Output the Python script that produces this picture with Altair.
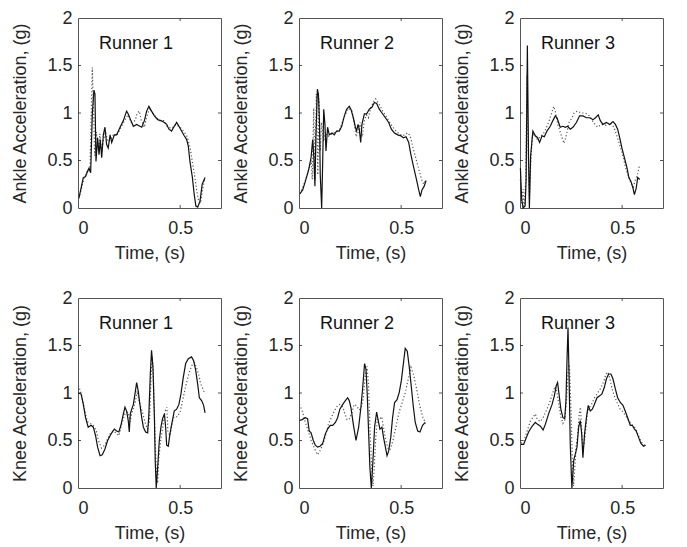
import altair as alt
import pandas as pd

# ---- data (time in s, acceleration in g) ----
ankle_r1_solid = [(0.005,0.11),(0.026,0.32),(0.037,0.33),(0.047,0.39),(0.054,0.42),(0.062,0.37),(0.07,0.99),
    (0.078,1.24),(0.083,1.20),(0.088,0.49),(0.096,0.74),(0.103,0.56),(0.109,0.72),(0.116,0.53),(0.124,0.77),
    (0.132,0.85),(0.14,0.67),(0.148,0.63),(0.157,0.77),(0.165,0.69),(0.178,0.77),(0.189,0.77),(0.206,0.85),
    (0.222,0.92),(0.238,1.02),(0.246,0.99),(0.259,0.92),(0.271,0.86),(0.287,0.88),(0.303,0.86),(0.312,0.85),
    (0.325,0.92),(0.336,1.02),(0.347,1.07),(0.36,1.02),(0.374,0.97),(0.39,0.93),(0.406,0.92),(0.423,0.90),
    (0.434,0.88),(0.445,0.83),(0.458,0.81),(0.471,0.86),(0.483,0.90),(0.494,0.86),(0.507,0.81),(0.52,0.76),
    (0.532,0.72),(0.54,0.65),(0.548,0.49),(0.56,0.32),(0.569,0.14),(0.577,0.02),(0.586,0.01),(0.597,0.07),
    (0.608,0.25),(0.622,0.32)]
ankle_r1_dotted = [(0.005,0.10),(0.03,0.32),(0.05,0.40),(0.058,0.38),(0.065,1.0),(0.07,1.48),(0.075,1.1),
    (0.082,0.55),(0.09,0.8),(0.1,0.6),(0.107,0.78),(0.115,0.6),(0.125,0.72),(0.135,0.8),(0.145,0.7),(0.16,0.72),
    (0.175,0.78),(0.19,0.76),(0.21,0.85),(0.23,0.93),(0.245,0.98),(0.26,0.9),(0.28,0.92),(0.29,1.0),(0.30,1.02),
    (0.31,0.92),(0.325,0.85),(0.335,0.95),(0.35,1.05),(0.365,1.0),(0.38,0.96),(0.40,0.92),(0.42,0.92),(0.44,0.85),
    (0.46,0.84),(0.48,0.88),(0.50,0.85),(0.52,0.8),(0.535,0.75),(0.55,0.62),(0.56,0.48),(0.57,0.35),(0.58,0.2),
    (0.59,0.08),(0.60,0.05),(0.61,0.2),(0.62,0.3)]

ankle_r2_solid = [(0.005,0.15),(0.018,0.19),(0.031,0.28),(0.047,0.40),(0.059,0.53),(0.067,0.72),(0.072,0.56),
    (0.078,0.23),(0.083,0.77),(0.09,1.25),(0.095,1.20),(0.1,0.92),(0.104,0.35),(0.111,0.0),(0.116,0.49),
    (0.121,1.04),(0.127,0.88),(0.132,0.60),(0.14,0.85),(0.148,0.77),(0.162,0.79),(0.173,0.77),(0.184,0.81),
    (0.197,0.81),(0.209,0.86),(0.222,0.97),(0.233,1.04),(0.246,1.07),(0.254,1.04),(0.266,0.95),(0.276,0.85),
    (0.282,0.81),(0.289,0.88),(0.295,0.83),(0.302,0.69),(0.308,0.88),(0.32,0.99),(0.331,0.99),(0.344,1.04),
    (0.357,1.06),(0.369,1.11),(0.38,1.10),(0.393,1.04),(0.406,1.0),(0.423,0.95),(0.439,0.90),(0.452,0.83),
    (0.467,0.79),(0.483,0.77),(0.499,0.76),(0.511,0.74),(0.524,0.75),(0.537,0.69),(0.548,0.56),(0.56,0.44),
    (0.573,0.32),(0.586,0.19),(0.594,0.12),(0.602,0.19),(0.613,0.23),(0.622,0.29)]
ankle_r2_dotted = [(0.005,0.15),(0.03,0.28),(0.05,0.42),(0.06,0.5),(0.065,0.3),(0.072,1.05),(0.078,0.3),
    (0.085,1.2),(0.092,0.35),(0.098,1.15),(0.104,0.6),(0.11,0.9),(0.12,0.7),(0.13,0.8),(0.14,0.75),(0.16,0.78),
    (0.18,0.8),(0.2,0.83),(0.22,0.95),(0.24,1.05),(0.26,1.02),(0.27,0.9),(0.28,0.75),(0.29,0.8),(0.3,0.9),
    (0.31,0.75),(0.32,0.92),(0.33,0.98),(0.34,0.95),(0.35,1.05),(0.365,1.12),(0.375,1.15),(0.39,1.1),(0.41,1.02),
    (0.43,0.95),(0.45,0.88),(0.47,0.82),(0.49,0.78),(0.51,0.76),(0.52,0.78),(0.535,0.79),(0.545,0.75),(0.56,0.62),
    (0.575,0.5),(0.59,0.38),(0.60,0.3),(0.61,0.25),(0.62,0.3)]

ankle_r3_solid = [(0.002,0.42),(0.008,0.1),(0.015,0.0),(0.025,0.02),(0.03,0.3),(0.036,1.71),(0.042,0.5),
    (0.046,0.0),(0.052,0.55),(0.063,0.81),(0.075,0.76),(0.086,0.74),(0.096,0.69),(0.108,0.76),(0.119,0.75),
    (0.132,0.81),(0.148,0.86),(0.161,0.92),(0.173,0.97),(0.181,0.95),(0.189,0.90),(0.197,0.85),(0.21,0.86),
    (0.222,0.85),(0.233,0.86),(0.246,0.83),(0.259,0.85),(0.276,0.9),(0.292,0.97),(0.308,0.97),(0.325,0.95),
    (0.341,0.95),(0.357,0.93),(0.37,0.95),(0.383,0.98),(0.393,0.92),(0.406,0.88),(0.423,0.90),(0.439,0.88),
    (0.455,0.91),(0.467,0.88),(0.478,0.83),(0.488,0.74),(0.499,0.63),(0.511,0.53),(0.524,0.42),(0.533,0.32),
    (0.543,0.28),(0.553,0.21),(0.56,0.14),(0.569,0.21),(0.576,0.32),(0.586,0.30)]
ankle_r3_dotted = [(0.002,0.3),(0.008,0.05),(0.015,0.2),(0.02,0.0),(0.028,0.3),(0.034,1.4),(0.04,0.6),
    (0.046,0.1),(0.052,0.45),(0.06,0.75),(0.07,0.78),(0.085,0.72),(0.1,0.75),(0.12,0.8),(0.14,0.9),(0.155,1.0),
    (0.165,1.07),(0.175,1.0),(0.185,0.88),(0.2,0.78),(0.215,0.68),(0.225,0.75),(0.24,0.9),(0.255,0.95),
    (0.265,1.0),(0.28,1.02),(0.3,1.0),(0.32,1.0),(0.34,0.97),(0.36,0.9),(0.38,0.85),(0.40,0.88),(0.42,0.87),
    (0.44,0.9),(0.46,0.85),(0.48,0.72),(0.5,0.58),(0.52,0.4),(0.54,0.28),(0.555,0.22),(0.565,0.3),(0.575,0.35),
    (0.585,0.45)]

knee_r1_solid = [(0.002,1.0),(0.015,0.99),(0.026,0.88),(0.037,0.74),(0.05,0.64),(0.064,0.66),(0.075,0.64),
    (0.086,0.55),(0.096,0.43),(0.108,0.34),(0.119,0.35),(0.132,0.41),(0.145,0.50),(0.157,0.55),(0.168,0.59),
    (0.178,0.62),(0.189,0.60),(0.2,0.59),(0.21,0.66),(0.222,0.78),(0.23,0.85),(0.238,0.81),(0.246,0.71),
    (0.251,0.59),(0.256,0.78),(0.263,0.83),(0.271,0.88),(0.279,0.99),(0.287,1.11),(0.295,1.02),(0.303,0.88),
    (0.312,0.74),(0.32,0.64),(0.331,0.59),(0.341,0.58),(0.347,0.78),(0.354,1.2),(0.36,1.45),(0.367,1.27),
    (0.374,0.74),(0.378,0.29),(0.383,0.0),(0.39,0.22),(0.398,0.50),(0.406,0.64),(0.414,0.73),(0.423,0.78),
    (0.429,0.64),(0.434,0.45),(0.442,0.44),(0.45,0.57),(0.462,0.71),(0.471,0.81),(0.483,0.83),(0.494,0.88),
    (0.504,0.99),(0.515,1.16),(0.527,1.31),(0.54,1.36),(0.556,1.38),(0.566,1.34),(0.576,1.24),(0.586,1.09),
    (0.594,0.95),(0.605,0.92),(0.615,0.87),(0.622,0.79)]
knee_r1_dotted = [(0.002,1.08),(0.015,1.0),(0.03,0.85),(0.045,0.7),(0.06,0.68),(0.075,0.66),(0.09,0.6),
    (0.1,0.5),(0.115,0.42),(0.13,0.45),(0.145,0.52),(0.16,0.58),(0.175,0.6),(0.19,0.57),(0.2,0.55),(0.215,0.68),
    (0.23,0.78),(0.245,0.8),(0.255,0.7),(0.265,0.8),(0.28,0.9),(0.29,1.02),(0.30,0.9),(0.315,0.8),(0.33,0.68),
    (0.34,0.62),(0.35,0.7),(0.358,1.2),(0.364,1.38),(0.37,1.1),(0.377,0.55),(0.385,0.1),(0.39,0.05),(0.395,0.3),
    (0.405,0.5),(0.415,0.65),(0.425,0.8),(0.435,0.85),(0.44,0.6),(0.45,0.55),(0.46,0.68),(0.47,0.75),
    (0.485,0.75),(0.5,0.8),(0.515,0.95),(0.53,1.1),(0.545,1.22),(0.56,1.3),(0.57,1.32),(0.58,1.27),(0.59,1.2),
    (0.6,1.1),(0.61,1.05),(0.62,1.0)]

knee_r2_solid = [(0.002,0.71),(0.015,0.72),(0.031,0.74),(0.042,0.73),(0.05,0.60),(0.059,0.58),(0.07,0.50),
    (0.08,0.45),(0.091,0.43),(0.103,0.44),(0.116,0.47),(0.129,0.57),(0.14,0.62),(0.153,0.66),(0.165,0.66),
    (0.178,0.69),(0.189,0.74),(0.2,0.83),(0.214,0.88),(0.227,0.92),(0.238,0.95),(0.246,0.92),(0.254,0.85),
    (0.266,0.67),(0.279,0.50),(0.292,0.64),(0.303,0.85),(0.312,1.06),(0.321,1.31),(0.328,1.25),(0.334,0.99),
    (0.341,0.57),(0.347,0.22),(0.354,0.0),(0.362,0.29),(0.37,0.64),(0.38,0.80),(0.388,0.71),(0.396,0.62),
    (0.406,0.64),(0.414,0.53),(0.423,0.43),(0.431,0.34),(0.439,0.39),(0.449,0.53),(0.458,0.74),(0.468,0.90),
    (0.48,0.93),(0.491,1.01),(0.501,1.13),(0.511,1.31),(0.52,1.47),(0.53,1.44),(0.54,1.27),(0.55,1.06),
    (0.56,0.85),(0.569,0.69),(0.581,0.60),(0.592,0.59),(0.605,0.66),(0.618,0.69)]
knee_r2_dotted = [(0.002,0.88),(0.015,0.82),(0.03,0.7),(0.045,0.6),(0.06,0.5),(0.075,0.42),(0.09,0.35),
    (0.1,0.38),(0.115,0.45),(0.13,0.55),(0.145,0.68),(0.16,0.75),(0.175,0.82),(0.19,0.87),(0.2,0.88),
    (0.215,0.85),(0.225,0.78),(0.235,0.72),(0.245,0.72),(0.26,0.8),(0.27,0.88),(0.28,0.87),(0.295,0.82),
    (0.305,0.85),(0.315,0.95),(0.325,1.2),(0.333,1.28),(0.34,1.1),(0.348,0.6),(0.356,0.2),(0.362,0.02),
    (0.368,0.2),(0.375,0.5),(0.383,0.72),(0.393,0.72),(0.405,0.75),(0.415,0.62),(0.425,0.5),(0.435,0.42),
    (0.445,0.4),(0.46,0.5),(0.475,0.65),(0.49,0.8),(0.505,0.9),(0.52,1.0),(0.535,1.15),(0.548,1.27),(0.56,1.2),
    (0.575,1.05),(0.59,0.88),(0.605,0.75),(0.62,0.68)]

knee_r3_solid = [(0.005,0.46),(0.018,0.46),(0.031,0.53),(0.042,0.59),(0.059,0.65),(0.075,0.69),(0.086,0.67),
    (0.1,0.65),(0.113,0.61),(0.124,0.67),(0.14,0.78),(0.157,0.88),(0.168,0.97),(0.178,1.08),(0.184,1.11),
    (0.191,0.99),(0.2,0.83),(0.21,0.74),(0.219,0.73),(0.225,0.92),(0.23,1.34),(0.235,1.69),(0.24,1.2),
    (0.246,0.46),(0.254,0.0),(0.263,0.29),(0.271,0.36),(0.279,0.43),(0.287,0.64),(0.295,0.71),(0.302,0.57),
    (0.308,0.32),(0.316,0.57),(0.325,0.74),(0.334,0.87),(0.344,0.81),(0.354,0.83),(0.364,0.88),(0.377,0.95),
    (0.39,0.97),(0.401,0.99),(0.413,1.06),(0.423,1.15),(0.434,1.20),(0.445,1.20),(0.455,1.15),(0.467,1.04),
    (0.478,0.95),(0.491,0.90),(0.504,0.87),(0.515,0.81),(0.527,0.74),(0.54,0.66),(0.55,0.66),(0.56,0.62),
    (0.569,0.60),(0.581,0.53),(0.592,0.47),(0.605,0.44),(0.615,0.45)]
knee_r3_dotted = [(0.005,0.47),(0.02,0.5),(0.035,0.6),(0.05,0.7),(0.065,0.75),(0.075,0.78),(0.085,0.72),
    (0.1,0.7),(0.115,0.75),(0.13,0.82),(0.145,0.9),(0.16,1.0),(0.172,1.07),(0.18,1.02),(0.19,0.88),(0.2,0.75),
    (0.21,0.68),(0.22,0.72),(0.23,1.0),(0.238,1.3),(0.243,1.25),(0.25,0.8),(0.256,0.3),(0.262,0.02),(0.268,0.2),
    (0.275,0.45),(0.282,0.55),(0.29,0.78),(0.296,0.85),(0.302,0.6),(0.308,0.42),(0.315,0.48),(0.322,0.62),
    (0.33,0.8),(0.34,0.85),(0.35,0.88),(0.365,0.95),(0.38,1.0),(0.395,1.05),(0.41,1.12),(0.42,1.2),(0.43,1.22),
    (0.44,1.15),(0.45,1.05),(0.46,0.98),(0.475,0.9),(0.49,0.83),(0.505,0.8),(0.52,0.75),(0.535,0.7),(0.55,0.66),
    (0.565,0.63),(0.58,0.55),(0.595,0.48),(0.61,0.45)]

x_ticks = [0, 0.5]
y_ticks = [0, 0.5, 1, 1.5, 2]
x_domain = [0, 0.7]
y_domain = [0, 2]

W, H = 143, 190
FONT = "Liberation Sans"
INK = "#262626"


def series_df(pairs):
    return pd.DataFrame({"t": [p[0] for p in pairs], "v": [p[1] for p in pairs],
                         "i": list(range(len(pairs)))})


def panel(solid, dotted, ylabel, runner):
    xs = alt.Scale(domain=x_domain, nice=False, zero=False)
    ys = alt.Scale(domain=y_domain, nice=False)
    xax = alt.Axis(values=x_ticks, format="~g", title="Time, (s)")
    yax = alt.Axis(values=y_ticks, format="~g", title=ylabel)

    dotted_line = alt.Chart(series_df(dotted)).mark_line(
        color="#555555", strokeWidth=1.2, strokeDash=[1.2, 2.2]
    ).encode(x=alt.X("t:Q", scale=xs, axis=xax), y=alt.Y("v:Q", scale=ys, axis=yax), order="i:Q")
    solid_line = alt.Chart(series_df(solid)).mark_line(
        color="#111111", strokeWidth=1.2
    ).encode(x=alt.X("t:Q", scale=xs), y=alt.Y("v:Q", scale=ys), order="i:Q")

    xt = pd.DataFrame({"t": x_ticks[1:]})
    yt = pd.DataFrame({"v": y_ticks[1:-1]})
    tick_style = dict(color=INK, strokeWidth=0.8)
    xt_bottom = alt.Chart(xt).mark_rule(**tick_style).encode(
        x=alt.X("t:Q", scale=xs), y=alt.value(H), y2=alt.value(H - 3))
    xt_top = alt.Chart(xt).mark_rule(**tick_style).encode(
        x=alt.X("t:Q", scale=xs), y=alt.value(0), y2=alt.value(3))
    yt_left = alt.Chart(yt).mark_rule(**tick_style).encode(
        y=alt.Y("v:Q", scale=ys), x=alt.value(0), x2=alt.value(3))
    yt_right = alt.Chart(yt).mark_rule(**tick_style).encode(
        y=alt.Y("v:Q", scale=ys), x=alt.value(W), x2=alt.value(W - 3))

    label = alt.Chart(pd.DataFrame({"s": [runner]})).mark_text(
        align="left", baseline="middle", fontSize=18, font=FONT, color="#111111"
    ).encode(text="s:N", x=alt.value(21), y=alt.value(26))

    return alt.layer(dotted_line, solid_line, xt_bottom, xt_top, yt_left, yt_right, label).properties(
        width=W, height=H)


panels = [
    panel(ankle_r1_solid, ankle_r1_dotted, "Ankle Acceleration, (g)", "Runner 1"),
    panel(ankle_r2_solid, ankle_r2_dotted, "Ankle Acceleration, (g)", "Runner 2"),
    panel(ankle_r3_solid, ankle_r3_dotted, "Ankle Acceleration, (g)", "Runner 3"),
    panel(knee_r1_solid, knee_r1_dotted, "Knee Acceleration, (g)", "Runner 1"),
    panel(knee_r2_solid, knee_r2_dotted, "Knee Acceleration, (g)", "Runner 2"),
    panel(knee_r3_solid, knee_r3_dotted, "Knee Acceleration, (g)", "Runner 3"),
]

chart = alt.concat(*panels, columns=3, spacing={"row": 90, "column": 78}, bounds="flush").properties(
    padding={"left": 3, "top": 0, "right": 5, "bottom": 5},
    background="white",
).configure_view(
    stroke="#555555", strokeWidth=1
).configure_axis(
    grid=False, domain=False, ticks=False,
    labelFont=FONT, titleFont=FONT, labelFontSize=18, titleFontSize=18,
    titleFontWeight="normal", labelColor=INK, titleColor=INK,
).configure_axisX(
    labelPadding=11, titlePadding=7
).configure_axisY(
    labelPadding=6, titlePadding=17
)

chart.save("out.html", embed_options={"renderer": "svg", "actions": False})
